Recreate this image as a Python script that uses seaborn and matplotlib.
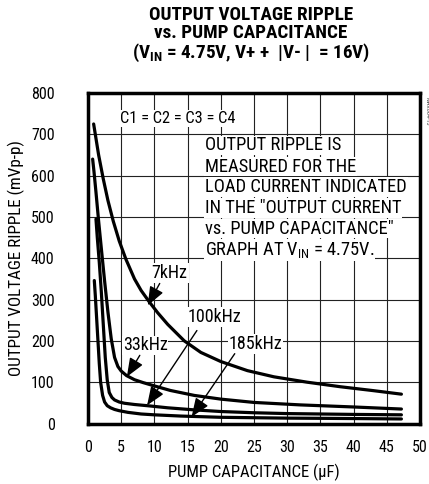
import pandas as pd
import matplotlib
matplotlib.use("Agg")
import matplotlib.pyplot as plt
import seaborn as sns

# curves (pump capacitance in uF, ripple in mVp-p)
f7_x = [0.85, 1.1, 1.6, 2.3, 3.0, 3.8, 4.7, 5.7, 7.0, 8.0, 9.2, 10.5, 12.0, 14.5, 17, 20, 24, 28, 33, 38, 43, 47.2]
f7_y = [725, 700, 650, 592, 540, 490, 442, 398, 350, 322, 295, 268, 240, 200, 172, 150, 128, 113, 100, 89, 79.5, 71]

f33_x = [0.7, 0.9, 1.2, 1.6, 2.0, 2.5, 3.0, 3.5, 4.0, 4.5, 5.0, 5.8, 7.0, 8.3, 10, 12.4, 16, 20, 25, 32, 40, 47.2]
f33_y = [640, 610, 560, 490, 425, 345, 270, 205, 160, 138, 127, 116, 106, 99, 91, 80, 68, 59, 51, 45, 40, 35]

f100_x = [1.2, 1.4, 1.7, 2.0, 2.3, 2.6, 2.9, 3.2, 3.6, 4.0, 4.7, 5.5, 7.0, 9.0, 12, 16, 20, 25, 30, 40, 47.2]
f100_y = [495, 450, 390, 320, 240, 160, 105, 75, 63, 57, 52, 49, 46, 43, 38, 33, 29, 26, 24, 22, 21]

f185_x = [0.95, 1.1, 1.3, 1.5, 1.7, 1.9, 2.2, 2.5, 2.9, 3.4, 4.0, 4.7, 6.0, 8.0, 10, 14, 20, 25, 30, 40, 47.2]
f185_y = [346, 310, 255, 200, 145, 100, 68, 52, 43, 38, 34, 31, 27, 23, 21, 18, 15, 14, 13, 12, 11]

x_ticks = [0, 5, 10, 15, 20, 25, 30, 35, 40, 45, 50]
y_ticks = [0, 100, 200, 300, 400, 500, 600, 700, 800]

title_lines = ["OUTPUT VOLTAGE RIPPLE",
               "vs. PUMP CAPACITANCE",
               r"(V$_{\mathbf{IN}}$ = 4.75V, V+ +  $\mathbf{|}$V- $\mathbf{|}$  = 16V)"]

note_lines = ["OUTPUT RIPPLE IS",
              "MEASURED FOR THE",
              "LOAD CURRENT INDICATED",
              "IN THE \"OUTPUT CURRENT",
              "vs. PUMP CAPACITANCE\"",
              r"GRAPH AT V$_{\mathrm{IN}}$ = 4.75V."]

frames = []
for name, xs, ys in [("7kHz", f7_x, f7_y), ("33kHz", f33_x, f33_y),
                     ("100kHz", f100_x, f100_y), ("185kHz", f185_x, f185_y)]:
    frames.append(pd.DataFrame({"cap": xs, "ripple": ys, "freq": name}))
df = pd.concat(frames, ignore_index=True)

sns.set_style("white")
FONT = "Roboto Condensed"
plt.rcParams["font.family"] = [FONT, "Liberation Sans", "DejaVu Sans"]
plt.rcParams["mathtext.fontset"] = "custom"
plt.rcParams["mathtext.rm"] = FONT
plt.rcParams["mathtext.it"] = FONT
plt.rcParams["mathtext.bf"] = FONT + ":bold"
plt.rcParams["text.color"] = "black"
plt.rcParams["axes.labelcolor"] = "black"

fig = plt.figure(figsize=(4.29, 4.84), dpi=100)
ax = fig.add_axes([88 / 429, 1 - 423.5 / 484, 332 / 429, 330.5 / 484])

for name in ["7kHz", "33kHz", "100kHz", "185kHz"]:
    sns.lineplot(data=df[df["freq"] == name], x="cap", y="ripple", ax=ax,
                 color="black", lw=2.3, sort=False, estimator=None)

ax.set_xlim(0, 50)
ax.set_ylim(0, 800)
ax.set_xticks(x_ticks)
ax.set_yticks(y_ticks)
ax.grid(True, color="#222222", lw=0.8)
ax.set_axisbelow(True)
for s in ax.spines.values():
    s.set_linewidth(2.5)
    s.set_color("black")
ax.tick_params(axis="both", length=0, labelsize=11.5, colors="black")
ax.tick_params(axis="y", pad=24)
ax.tick_params(axis="x", pad=12)
ax.set_xlabel("PUMP CAPACITANCE (µF)", fontsize=12)
ax.set_ylabel("OUTPUT VOLTAGE RIPPLE (mVp-p)", fontsize=12.3)
ax.xaxis.set_label_coords(0.5, -0.123)
ax.yaxis.set_label_coords(-0.217, 0.5)
ax.yaxis.label.set_verticalalignment("center")

# title as one block
fig.text(0.585, 1 - 6 / 484, "\n".join(title_lines), ha="center", va="top",
         fontsize=13.8, fontweight="bold", linespacing=0.99, multialignment="center")

fig.text(427 / 429, 1 - 97 / 484, "MAX864-13", rotation=-90, ha="center", va="top",
         fontsize=4.5, color="#444444")

box = dict(facecolor="white", edgecolor="none", pad=0.6)
ax.text(13.5, 739, "C1 = C2 = C3 = C4", ha="center", va="center", fontsize=11.8, bbox=box)

note_y = [673, 622, 572, 522, 472, 419]
for line, yy in zip(note_lines, note_y):
    ax.text(17.6, yy, line, ha="left", va="center", fontsize=13.3, bbox=box)

# frequency labels with arrows
labels = [("7kHz", 12.3, 365, (10.8, 339), (9.0, 286)),
          ("33kHz", 8.6, 189, (7.8, 165), (5.85, 113)),
          ("100kHz", 19.1, 257, (16.4, 225), (8.9, 44)),
          ("185kHz", 25.2, 193, (22.1, 169), (15.6, 16))]
for txt, lx, ly, start, tip in labels:
    ax.text(lx, ly, txt, ha="center", va="center", fontsize=13, bbox=box)
    ax.annotate("", xy=tip, xytext=start,
                arrowprops=dict(arrowstyle="-|>,head_length=0.95,head_width=0.38",
                                color="black", lw=1.0, shrinkA=0, shrinkB=0,
                                mutation_scale=12))

fig.savefig("out.png", dpi=100)
